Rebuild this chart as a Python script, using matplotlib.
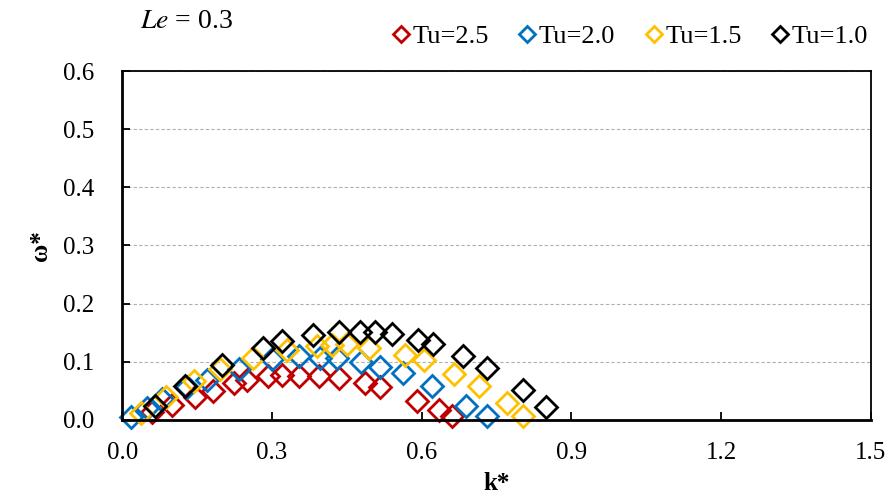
import matplotlib; matplotlib.use('Agg')
import matplotlib.pyplot as plt

plt.rcParams['font.family'] = ['Liberation Serif', 'DejaVu Serif']
plt.rcParams['mathtext.fontset'] = 'stix'

# Tu=2.5
k_25 = [0.06, 0.10, 0.146, 0.183, 0.225, 0.25, 0.293, 0.32, 0.355, 0.395, 0.435, 0.487, 0.517, 0.59, 0.634, 0.66]
w_25 = [0.014, 0.026, 0.04, 0.049, 0.064, 0.069, 0.076, 0.077, 0.076, 0.076, 0.072, 0.063, 0.056, 0.033, 0.017, 0.007]
# Tu=2.0
k_20 = [0.018, 0.05, 0.08, 0.13, 0.17, 0.235, 0.3, 0.355, 0.397, 0.43, 0.478, 0.517, 0.563, 0.62, 0.688, 0.73]
w_20 = [0.005, 0.02, 0.035, 0.057, 0.068, 0.088, 0.105, 0.11, 0.107, 0.106, 0.1, 0.091, 0.08, 0.058, 0.023, 0.006]
# Tu=1.5
k_15 = [0.037, 0.087, 0.143, 0.196, 0.263, 0.33, 0.39, 0.42, 0.45, 0.494, 0.567, 0.604, 0.664, 0.714, 0.771, 0.803]
w_15 = [0.012, 0.04, 0.066, 0.088, 0.106, 0.121, 0.127, 0.129, 0.13, 0.123, 0.112, 0.103, 0.079, 0.058, 0.029, 0.006]
# Tu=1.0
k_10 = [0.065, 0.125, 0.2, 0.282, 0.32, 0.383, 0.435, 0.477, 0.507, 0.54, 0.592, 0.622, 0.682, 0.73, 0.804, 0.85]
w_10 = [0.024, 0.058, 0.095, 0.124, 0.136, 0.146, 0.151, 0.152, 0.151, 0.147, 0.138, 0.131, 0.11, 0.089, 0.051, 0.022]

series = [(k_25, w_25, '#C00000', 'Tu=2.5'), (k_20, w_20, '#0070C0', 'Tu=2.0'),
          (k_15, w_15, '#FFC000', 'Tu=1.5'), (k_10, w_10, '#000000', 'Tu=1.0')]

fig = plt.figure(figsize=(8.85, 5.01), dpi=100)
ax = fig.add_axes([0.138, 0.162, 0.846, 0.696])
for k, w, c, lab in series:
    ax.plot(k, w, ls='none', marker='D', ms=11, mfc='none', mec=c, mew=2, label=lab, clip_on=False)

ax.set_xlim(0, 1.5); ax.set_ylim(0, 0.6)
ax.set_xticks([0, 0.3, 0.6, 0.9, 1.2, 1.5])
ax.set_yticks([0, 0.1, 0.2, 0.3, 0.4, 0.5, 0.6])
ax.xaxis.set_major_formatter(plt.FormatStrFormatter('%.1f'))
ax.yaxis.set_major_formatter(plt.FormatStrFormatter('%.1f'))
ax.tick_params(direction='in', length=6, width=1.3, labelsize=18)
ax.tick_params(axis='x', pad=16)
ax.tick_params(axis='y', pad=20)
ax.yaxis.grid(True, ls=(0, (3, 2)), color='#b0b0b0', lw=0.8)
ax.set_axisbelow(True)
for s in ax.spines.values():
    s.set_linewidth(1.3)
ax.spines['bottom'].set_linewidth(2)
ax.spines['left'].set_linewidth(2)

ax.set_xlabel('k*', fontsize=18, fontweight='bold', labelpad=6)
ax.set_ylabel('ω*', fontsize=18, fontweight='bold', labelpad=8)

fig.text(0.158, 0.958, r'$Le$ = 0.3', fontsize=20, va='center')
fig.legend(loc='center right', bbox_to_anchor=(1.008, 0.928), ncol=4, frameon=False,
           fontsize=19, handlelength=0.5, handletextpad=0.2, columnspacing=1.2, markerscale=0.75)

plt.savefig('out.png', dpi=100)
